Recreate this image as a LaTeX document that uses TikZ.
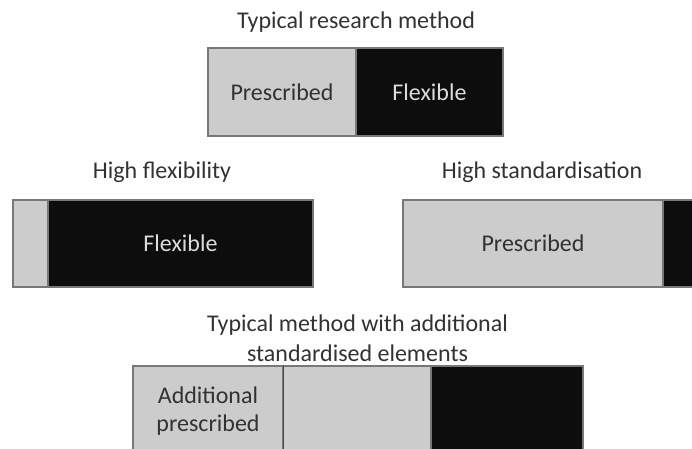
\documentclass[tikz,border=0pt]{standalone}
\usepackage{fontspec}
\setmainfont{Carlito}
\usepackage{xcolor}
\usepackage{tikz}
\usetikzlibrary{positioning}
\definecolor{presgray}{RGB}{204,204,204}
\definecolor{flexblack}{RGB}{13,13,13}
\definecolor{edgegray}{RGB}{120,120,120}
\definecolor{labeltext}{RGB}{50,50,50}
\definecolor{flextext}{RGB}{220,220,220}
\tikzset{
  part/.style={rectangle, draw=edgegray, line width=1.2pt, inner sep=0pt, align=center, font=\fontsize{24}{28}\selectfont},
  presbox/.style={part, fill=presgray, text=labeltext},
  flexbox/.style={part, fill=flexblack, text=flextext},
  heading/.style={align=center, text=labeltext, inner sep=0pt, font=\fontsize{24}{30}\selectfont},
}

\begin{document}
\begin{tikzpicture}[x=1pt, y=-1pt]
  \useasboundingbox (0,0) rectangle (692,448);

  % Typical method
  \node[heading] (ttop) at (356,22) {Typical research method};
  \node[presbox, minimum width=148pt, minimum height=88pt] (tpres) at (282,92) {Prescribed};
  \node[flexbox, minimum width=147pt, minimum height=88pt] (tflex) at (429.5,92) {Flexible};

  % High flexibility
  \node[heading] (hfl) at (162,172) {High flexibility};
  \node[presbox, minimum width=35pt, minimum height=87pt] (hfpres) at (30.5,243.5) {};
  \node[flexbox, minimum width=265pt, minimum height=87pt] (hfflex) at (180.5,243.5) {Flexible};

  % High standardisation (runs off the right edge)
  \node[heading] (hst) at (542,172) {High standardisation};
  \node[presbox, minimum width=260pt, minimum height=87pt] (hspres) at (533,243.5) {Prescribed};
  \node[flexbox, minimum width=60pt, minimum height=87pt] (hsflex) at (693,243.5) {};

  % Additional standardised elements (runs off the bottom)
  \node[heading] (tadd) at (357.5,338) {Typical method with additional\\standardised elements};
  \node[presbox, minimum width=150pt, minimum height=90pt, font=\fontsize{24}{28}\selectfont] (apres) at (208,411) {Additional\\prescribed};
  \node[presbox, minimum width=148pt, minimum height=90pt] (atpres) at (357,411) {};
  \node[flexbox, minimum width=152pt, minimum height=90pt] (atflex) at (507,411) {};
  \draw[draw=black!70, line width=1.2pt] (apres.north east) -- (apres.south east);

\end{tikzpicture}
\end{document}
